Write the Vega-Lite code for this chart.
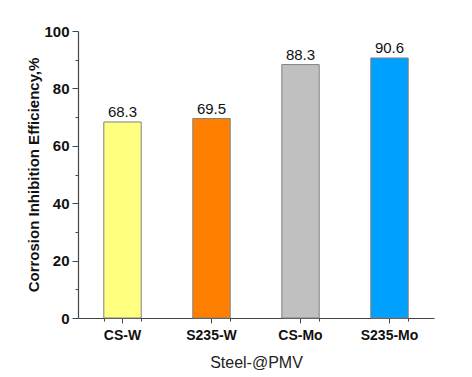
{
  "$schema": "https://vega.github.io/schema/vega-lite/v6.json",
  "width": 356,
  "height": 287,
  "autosize": {"type": "none"},
  "padding": {"left": 78, "top": 31, "right": 38, "bottom": 59},
  "config": {"view": {"stroke": null}, "font": "Liberation Sans"},
  "data": {
    "values": [
      {"steel": "CS-W", "eff": 68.3},
      {"steel": "S235-W", "eff": 69.5},
      {"steel": "CS-Mo", "eff": 88.3},
      {"steel": "S235-Mo", "eff": 90.6}
    ]
  },
  "encoding": {
    "x": {
      "field": "steel",
      "type": "nominal",
      "sort": ["CS-W", "S235-W", "CS-Mo", "S235-Mo"],
      "scale": {"paddingInner": 0.58, "paddingOuter": 0.29}
    },
    "y": {
      "field": "eff",
      "type": "quantitative",
      "scale": {"domain": [0, 100], "nice": false}
    }
  },
  "layer": [
    {
      "mark": {"type": "bar", "stroke": "#808080", "strokeWidth": 1},
      "encoding": {
        "x": {
          "field": "steel",
          "type": "nominal",
          "sort": ["CS-W", "S235-W", "CS-Mo", "S235-Mo"],
          "axis": {
            "orient": "bottom",
            "title": "Steel-@PMV",
            "titleFont": "Liberation Sans",
            "titleFontSize": 16,
            "titleFontWeight": "normal",
            "titleColor": "#222",
            "titlePadding": 12,
            "labelFont": "Liberation Sans",
            "labelFontSize": 14,
            "labelFontWeight": "bold",
            "labelColor": "#111",
            "labelAngle": 0,
            "labelPadding": 5,
            "tickSize": 5,
            "tickColor": "#444",
            "domainColor": "#444",
            "domainWidth": 1.2
          }
        },
        "y": {
          "field": "eff",
          "type": "quantitative",
          "axis": {
            "orient": "left",
            "values": [0, 20, 40, 60, 80, 100],
            "title": "Corrosion Inhibition Efficiency,%",
            "titleFont": "Liberation Sans",
            "titleFontSize": 15,
            "titleFontWeight": "bold",
            "titleColor": "#111",
            "titlePadding": 2,
            "labelFont": "Liberation Sans",
            "labelFontSize": 15,
            "labelFontWeight": "bold",
            "labelColor": "#111",
            "labelPadding": 3,
            "tickSize": 6,
            "tickColor": "#444",
            "domainColor": "#444",
            "domainWidth": 1.2,
            "grid": false
          }
        },
        "color": {
          "field": "steel",
          "type": "nominal",
          "scale": {
            "domain": ["CS-W", "S235-W", "CS-Mo", "S235-Mo"],
            "range": ["#FFFF80", "#FF8000", "#C0C0C0", "#00A0FF"]
          },
          "legend": null
        }
      }
    },
    {
      "mark": {"type": "text", "baseline": "bottom", "dy": -2, "fontSize": 15, "font": "Liberation Sans", "color": "#111"},
      "encoding": {
        "x": {
          "field": "steel",
          "type": "nominal",
          "sort": ["CS-W", "S235-W", "CS-Mo", "S235-Mo"],
          "axis": {
            "orient": "bottom",
            "title": null,
            "labels": false,
            "domain": false,
            "tickBand": "extent",
            "tickSize": 3,
            "tickColor": "#444"
          }
        },
        "y": {
          "field": "eff",
          "type": "quantitative",
          "axis": {
            "orient": "left",
            "title": null,
            "labels": false,
            "domain": false,
            "grid": false,
            "values": [10, 30, 50, 70, 90],
            "tickSize": 3,
            "tickColor": "#444"
          }
        },
        "text": {"field": "eff", "type": "quantitative", "format": ".1f"}
      }
    }
  ],
  "resolve": {"axis": {"x": "independent", "y": "independent"}}
}
